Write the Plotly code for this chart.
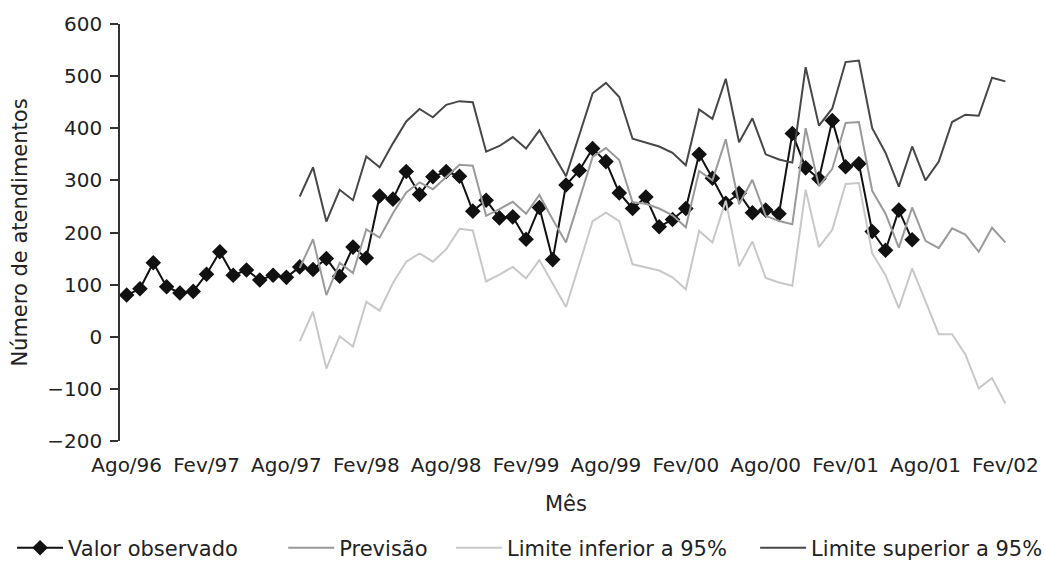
import plotly.graph_objects as go

# Month categories: Ago/96 .. Fev/02 (67 months)
MESES = ["Jan", "Fev", "Mar", "Abr", "Mai", "Jun",
         "Jul", "Ago", "Set", "Out", "Nov", "Dez"]
meses = [f"{MESES[(7 + i) % 12]}/{(1996 + (7 + i) // 12) % 100:02d}" for i in range(67)]

rotulos_x = ["Ago/96", "Fev/97", "Ago/97", "Fev/98", "Ago/98", "Fev/99",
             "Ago/99", "Fev/00", "Ago/00", "Fev/01", "Ago/01", "Fev/02"]

# Observed monthly counts (Ago/96 .. Jul/01)
observado = [80, 92, 142, 96, 84, 87, 120, 163, 118, 128, 109, 118,
             114, 134, 129, 150, 116, 172, 151, 270, 264, 317, 273, 307,
             317, 308, 241, 262, 228, 230, 187, 248, 148, 291, 319, 361,
             336, 276, 246, 268, 211, 225, 246, 350, 304, 256, 275, 238,
             243, 236, 390, 324, 303, 415, 326, 332, 202, 166, 243, 186]

# Forecast and 95% limits (Set/97 .. Fev/02)
previsao = [132, 187, 80, 142, 122, 206, 190, 237, 277, 296, 283, 307,
            330, 328, 232, 245, 259, 236, 272, 225, 181, 263, 345, 362,
            339, 258, 255, 246, 233, 210, 318, 300, 379, 254, 301, 232,
            222, 216, 400, 289, 322, 410, 412, 280, 236, 171, 248, 184,
            170, 208, 196, 163, 209, 181]

limite_inf = [-9, 48, -61, 1, -19, 67, 50, 103, 144, 160, 144, 168,
              207, 204, 106, 119, 134, 112, 147, 101, 57, 139, 222, 238,
              222, 139, 133, 127, 114, 91, 203, 181, 261, 135, 183, 113,
              104, 98, 282, 172, 205, 293, 295, 160, 118, 55, 131, 68,
              5, 5, -34, -99, -79, -128]

limite_sup = [269, 325, 221, 282, 262, 346, 325, 371, 413, 437, 421, 445,
              452, 450, 355, 366, 383, 361, 396, 351, 308, 387, 467, 487,
              460, 380, 373, 365, 353, 329, 436, 418, 495, 373, 419, 350,
              340, 334, 517, 405, 438, 527, 530, 400, 353, 288, 365, 300,
              336, 412, 426, 424, 497, 490]

x_obs = meses[:len(observado)]
x_prev = meses[len(meses) - len(previsao):]

FONT = "DejaVu Sans"
TXT = "#222222"

fig = go.Figure()

fig.add_trace(go.Scatter(
    x=x_obs, y=observado, name="Valor observado", mode="lines+markers",
    line=dict(color="#111111", width=2),
    marker=dict(symbol="diamond", size=12, color="#111111"),
    legend="legend",
))
fig.add_trace(go.Scatter(
    x=x_prev, y=previsao, name="Previsão", mode="lines",
    line=dict(color="#9a9a9a", width=2), legend="legend2",
))
fig.add_trace(go.Scatter(
    x=x_prev, y=limite_inf, name="Limite inferior a 95%", mode="lines",
    line=dict(color="#c8c8c8", width=2), legend="legend3",
))
fig.add_trace(go.Scatter(
    x=x_prev, y=limite_sup, name="Limite superior a 95%", mode="lines",
    line=dict(color="#474747", width=2), legend="legend4",
))


def legenda(x):
    return dict(orientation="h", x=x, xanchor="left", y=-0.257, yanchor="middle",
                font=dict(size=21, color=TXT), itemwidth=46,
                bgcolor="rgba(0,0,0,0)")


n = len(meses)
fig.update_layout(
    width=1045, height=563,
    margin=dict(l=120, r=33, t=24, b=122, autoexpand=False),
    paper_bgcolor="white", plot_bgcolor="white",
    font=dict(family=FONT, size=20, color=TXT),
    showlegend=True,
    legend=legenda(-0.121),
    legend2=legenda(0.183),
    legend3=legenda(0.371),
    legend4=legenda(0.712),
    xaxis=dict(
        type="category", categoryorder="array", categoryarray=meses,
        range=[-0.5, n - 0.5], tickvals=rotulos_x, ticktext=rotulos_x,
        showline=False, ticks="", showgrid=False, zeroline=False,
        ticklabelstandoff=10, automargin=False,
        title=dict(text="Mês", font=dict(size=21, color=TXT), standoff=20),
    ),
    # category-boundary tick marks along the zero line
    xaxis2=dict(
        overlaying="x", anchor="free", position=0.25, type="linear",
        range=[-0.5, n - 0.5],
        tickvals=[i + 5.5 for i in range(0, n - 1, 6)],
        showticklabels=False, ticks="outside", ticklen=5, tickwidth=1.5,
        tickcolor="#444", showline=True, linecolor="#444", linewidth=2,
        showgrid=False, zeroline=False,
    ),
    yaxis=dict(
        range=[-200, 600], tickvals=list(range(-200, 601, 100)),
        ticks="outside", ticklen=8, tickwidth=1.5, tickcolor="#333",
        showline=True, linecolor="#333", linewidth=1.5,
        showgrid=False, zeroline=False, ticklabelstandoff=4, automargin=False,
        title=dict(text="Número de atendimentos", font=dict(size=21, color=TXT),
                   standoff=14),
    ),
)

fig.write_html("out.html")
